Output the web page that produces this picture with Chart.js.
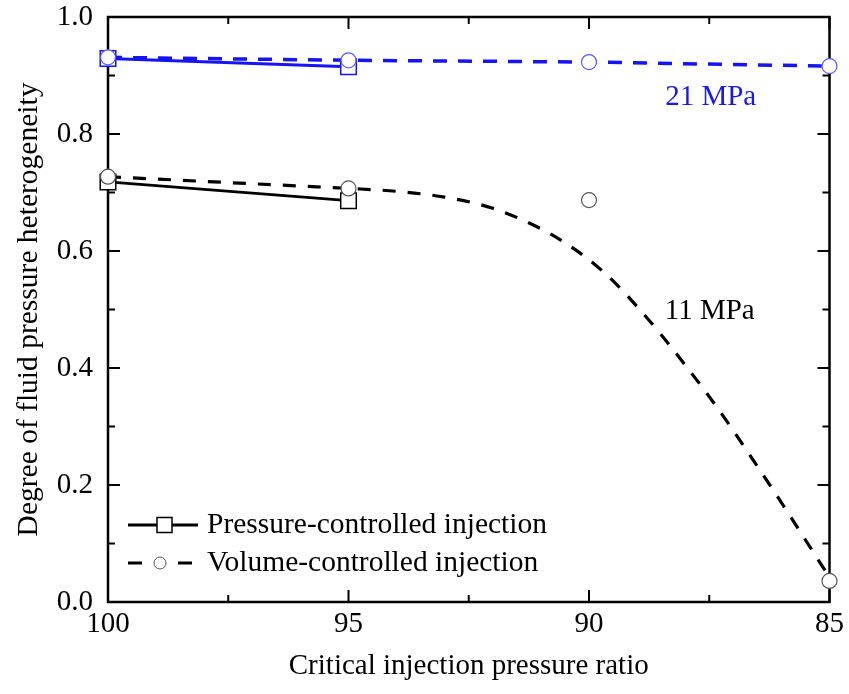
<!DOCTYPE html>
<html>
<head>
<meta charset="utf-8">
<script src="https://cdn.jsdelivr.net/npm/chart.js@4"></script>
<style>
  body { margin: 0; background: #fff; }
  #wrap { width: 849px; height: 694px; }
</style>
</head>
<body>
<div id="wrap"><canvas id="heteroChart" width="849" height="694"></canvas></div>
<script>
// critical injection pressure ratio (x) and measured heterogeneity (y)
const ratios = [100, 95, 90, 85];
const pressRatios = [100, 95];
const pressure21 = [0.929, 0.915];
const volume21 = [0.931, 0.926, 0.923, 0.916];
const pressure11 = [0.718, 0.686];
const volume11 = [0.727, 0.707, 0.687, 0.036];

// fitted trend through the 11 MPa volume-controlled runs
const fitRatios = [100, 99, 98, 97, 96, 95, 94, 93, 92, 91, 90.5, 90, 89.5, 89, 88.5, 88, 87.5, 87, 86.5, 86, 85.5, 85];
const fit11 = [0.727, 0.723, 0.719, 0.715, 0.711, 0.707, 0.702, 0.692, 0.673, 0.638, 0.614, 0.585, 0.549, 0.505, 0.457, 0.405, 0.351, 0.293, 0.232, 0.170, 0.106, 0.042];

const legendLabels = ["Pressure-controlled injection", "Volume-controlled injection"];
const pressureLabels = [
  { text: "21 MPa", x: 87.47, y: 0.863, color: "#1818f0" },
  { text: "11 MPa", x: 87.49, y: 0.497, color: "#000" },
];

const FONT = "'Liberation Serif', 'Times New Roman', serif";
const BLUE = "#1414f5";

const toPoints = (xs, ys) => ys.map((v, i) => ({ x: xs[i], y: v }));

// box frame with inward major/minor ticks on all four sides
const frameTicks = {
  id: "frameTicks",
  beforeDatasetsDraw(chart) {
    const { ctx, chartArea: a, scales } = chart;
    const x = scales.x, y = scales.y;
    const xMaj = x.ticks.map((t) => t.value);
    const yMaj = y.ticks.map((t) => t.value);
    const mids = (arr) => arr.slice(1).map((v, i) => (v + arr[i]) / 2);
    ctx.save();
    ctx.strokeStyle = "#000";
    ctx.lineWidth = 2;
    ctx.beginPath();
    const xt = (vals, len) => vals.forEach((v) => {
      const px = x.getPixelForValue(v);
      ctx.moveTo(px, a.bottom); ctx.lineTo(px, a.bottom - len);
      ctx.moveTo(px, a.top); ctx.lineTo(px, a.top + len);
    });
    const yt = (vals, len) => vals.forEach((v) => {
      const py = y.getPixelForValue(v);
      ctx.moveTo(a.left, py); ctx.lineTo(a.left + len, py);
      ctx.moveTo(a.right, py); ctx.lineTo(a.right - len, py);
    });
    xt(xMaj, 12); xt(mids(xMaj), 7);
    yt(yMaj, 12); yt(mids(yMaj), 7);
    ctx.stroke();
    ctx.lineWidth = 2.5;
    ctx.strokeRect(a.left, a.top, a.width, a.height);
    ctx.restore();
  },
};

// in-plot legend and the pressure labels
const extras = {
  id: "extras",
  afterDatasetsDraw(chart) {
    const { ctx, chartArea: a, scales } = chart;
    ctx.save();
    ctx.font = "29px " + FONT;
    ctx.textBaseline = "middle";
    ctx.textAlign = "center";
    pressureLabels.forEach((l) => {
      ctx.fillStyle = l.color;
      ctx.fillText(l.text, scales.x.getPixelForValue(l.x), scales.y.getPixelForValue(l.y));
    });

    const lx = a.left + 20;
    const r1 = a.bottom - 77, r2 = a.bottom - 39;
    ctx.strokeStyle = "#000";
    ctx.lineWidth = 2.8;
    ctx.beginPath();
    ctx.moveTo(lx, r1); ctx.lineTo(lx + 70, r1);
    ctx.stroke();
    ctx.fillStyle = "#fff";
    ctx.lineWidth = 1.5;
    ctx.fillRect(lx + 29, r1 - 7.5, 15, 15);
    ctx.strokeRect(lx + 29, r1 - 7.5, 15, 15);

    ctx.lineWidth = 3;
    ctx.beginPath();
    ctx.moveTo(lx, r2); ctx.lineTo(lx + 14, r2);
    ctx.moveTo(lx + 50, r2); ctx.lineTo(lx + 64, r2);
    ctx.stroke();
    ctx.lineWidth = 1;
    ctx.strokeStyle = "#555";
    ctx.beginPath();
    ctx.arc(lx + 32, r2, 6, 0, Math.PI * 2);
    ctx.fill();
    ctx.stroke();

    ctx.fillStyle = "#000";
    ctx.textAlign = "left";
    ctx.font = "29.5px " + FONT;
    ctx.fillText(legendLabels[0], lx + 79, r1);
    ctx.fillText(legendLabels[1], lx + 79, r2);
    ctx.restore();
  },
};

const ctx = document.getElementById("heteroChart").getContext("2d");
new Chart(ctx, {
  type: "line",
  data: {
    datasets: [
      {
        label: "11 MPa volume",
        data: toPoints(ratios, volume11),
        showLine: false,
        pointStyle: "circle",
        pointRadius: 7.5,
        pointBorderWidth: 1.2,
        pointBorderColor: "#555",
        pointBackgroundColor: "#fff",
        order: 1,
        clip: false,
      },
      {
        label: "21 MPa volume",
        data: toPoints(ratios, volume21),
        borderColor: BLUE,
        borderWidth: 3.5,
        borderDash: [14, 11],
        pointStyle: "circle",
        pointRadius: 7.5,
        pointBorderWidth: 1.2,
        pointBorderColor: "#5a5aff",
        pointBackgroundColor: "#fff",
        tension: 0,
        order: 2,
        clip: false,
      },
      {
        label: "21 MPa pressure",
        data: toPoints(pressRatios, pressure21),
        borderColor: BLUE,
        borderWidth: 3,
        pointStyle: "rect",
        pointRadius: 11,
        pointBorderWidth: 1.5,
        pointBorderColor: BLUE,
        pointBackgroundColor: "#fff",
        tension: 0,
        order: 3,
        clip: false,
      },
      {
        label: "11 MPa pressure",
        data: toPoints(pressRatios, pressure11),
        borderColor: "#000",
        borderWidth: 2.8,
        pointStyle: "rect",
        pointRadius: 11,
        pointBorderWidth: 1.5,
        pointBorderColor: "#000",
        pointBackgroundColor: "#fff",
        tension: 0,
        order: 4,
        clip: false,
      },
      {
        label: "11 MPa fit",
        data: toPoints(fitRatios, fit11),
        borderColor: "#000",
        borderWidth: 3.2,
        borderDash: [13, 12],
        pointRadius: 0,
        cubicInterpolationMode: "monotone",
        order: 5,
        clip: false,
      },
    ],
  },
  options: {
    responsive: false,
    animation: false,
    devicePixelRatio: 1,
    layout: { padding: { top: 0, right: 18, left: 0, bottom: 0 } },
    plugins: { legend: { display: false }, tooltip: { enabled: false } },
    scales: {
      x: {
        type: "linear",
        reverse: true,
        min: 85,
        max: 100,
        grid: { display: false, drawTicks: false },
        border: { display: false },
        ticks: { stepSize: 5, padding: 5, color: "#000", font: { family: FONT, size: 29 } },
        title: {
          display: true,
          text: "Critical injection pressure ratio",
          color: "#000",
          font: { family: FONT, size: 29 },
          padding: { top: 0, bottom: 10 },
        },
        afterFit: (s) => { s.height = 92; },
      },
      y: {
        min: 0,
        max: 1,
        grid: { display: false, drawTicks: false },
        border: { display: false },
        ticks: {
          stepSize: 0.2,
          padding: 15,
          color: "#000",
          font: { family: FONT, size: 29 },
          callback: (v) => v.toFixed(1),
        },
        title: {
          display: true,
          text: "Degree of fluid pressure heterogeneity",
          color: "#000",
          font: { family: FONT, size: 29.5 },
          padding: { top: 12, bottom: 0 },
        },
        afterFit: (s) => {
          s.width = 108;
          s.paddingTop = 17;
          s.paddingBottom = 0;
        },
      },
    },
  },
  plugins: [frameTicks, extras],
});
</script>
</body>
</html>
